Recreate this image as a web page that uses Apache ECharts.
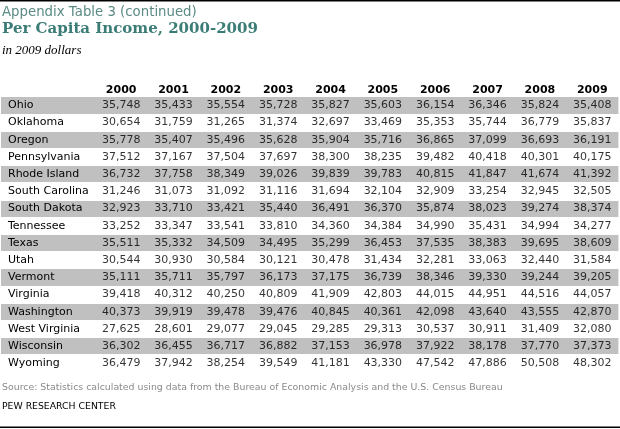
<!DOCTYPE html>
<html>
<head>
<meta charset="utf-8">
<script src="https://cdn.jsdelivr.net/npm/echarts@6/dist/echarts.min.js"></script>
<style>
html,body{margin:0;padding:0;background:#fff;}
#chart{width:620px;height:429px;}
</style>
</head>
<body>
<div id="chart"></div>
<script>
const years = ['2000','2001','2002','2003','2004','2005','2006','2007','2008','2009'];
const states = ['Ohio','Oklahoma','Oregon','Pennsylvania','Rhode Island','South Carolina','South Dakota','Tennessee','Texas','Utah','Vermont','Virginia','Washington','West Virginia','Wisconsin','Wyoming'];

const v2000 = [35748,30654,35778,37512,36732,31246,32923,33252,35511,30544,35111,39418,40373,27625,36302,36479];
const v2001 = [35433,31759,35407,37167,37758,31073,33710,33347,35332,30930,35711,40312,39919,28601,36455,37942];
const v2002 = [35554,31265,35496,37504,38349,31092,33421,33541,34509,30584,35797,40250,39478,29077,36717,38254];
const v2003 = [35728,31374,35628,37697,39026,31116,35440,33810,34495,30121,36173,40809,39476,29045,36882,39549];
const v2004 = [35827,32697,35904,38300,39839,31694,36491,34360,35299,30478,37175,41909,40845,29285,37153,41181];
const v2005 = [35603,33469,35716,38235,39783,32104,36370,34384,36453,31434,36739,42803,40361,29313,36978,43330];
const v2006 = [36154,35353,36865,39482,40815,32909,35874,34990,37535,32281,38346,44015,42098,30537,37922,47542];
const v2007 = [36346,35744,37099,40418,41847,33254,38023,35431,38383,33063,39330,44951,43640,30911,38178,47886];
const v2008 = [35824,36779,36693,40301,41674,32945,39274,34994,39695,32440,39244,44516,43555,31409,37770,50508];
const v2009 = [35408,35837,36191,40175,41392,32505,38374,34277,38609,31584,39205,44057,42870,32080,37373,48302];

const titleText = 'Appendix Table 3 (continued)';
const mainTitle = 'Per Capita Income, 2000-2009';
const subTitle = 'in 2009 dollars';
const sourceText = 'Source: Statistics calculated using data from the Bureau of Economic Analysis and the U.S. Census Bureau';
const creditText = 'PEW RESEARCH CENTER';

const columns = [v2000,v2001,v2002,v2003,v2004,v2005,v2006,v2007,v2008,v2009];
const cells = [];
states.forEach((s, i) => {
  years.forEach((y, j) => {
    cells.push([y, s, columns[j][i]]);
  });
});

const SANS = 'DejaVu Sans';
const bandColors = ['#c0c0c0', '#ffffff'];

const chart = echarts.init(document.getElementById('chart'), null, {renderer: 'canvas'});
chart.setOption({
  animation: false,
  backgroundColor: '#ffffff',
  title: [
    {text: titleText, left: 2, top: 6, padding: 0,
     textStyle: {fontFamily: SANS, fontSize: 13.3, fontWeight: 'normal', color: '#5b8a85', lineHeight: 13}},
    {text: mainTitle, left: 2, top: 22, padding: 0,
     textStyle: {fontFamily: 'DejaVu Serif', fontSize: 15, fontWeight: 'bold', color: '#3b7d76', lineHeight: 15}},
    {text: subTitle, left: 2, top: 44, padding: 0,
     textStyle: {fontFamily: 'Liberation Serif', fontSize: 13, fontStyle: 'italic', fontWeight: 'normal', color: '#000', lineHeight: 13}},
    {text: sourceText, left: 2, top: 383, padding: 0,
     textStyle: {fontFamily: SANS, fontSize: 9.4, fontWeight: 'normal', color: '#8a8a8a', lineHeight: 10}},
    {text: creditText, left: 2, top: 402, padding: 0,
     textStyle: {fontFamily: SANS, fontSize: 9.3, fontWeight: 'normal', color: '#000', lineHeight: 10}}
  ],
  graphic: [
    {type: 'rect', left: 0, top: 0, shape: {width: 620, height: 1.5}, style: {fill: '#000'}, silent: true},
    {type: 'rect', left: 0, top: 426.5, shape: {width: 620, height: 1.5}, style: {fill: '#000'}, silent: true}
  ],
  grid: [
    {left: 1, top: 96.7, width: 94, height: 275.2},
    {left: 95, top: 96.7, width: 523.4, height: 275.2}
  ],
  xAxis: [
    {gridIndex: 0, type: 'value', show: false, min: 0, max: 1},
    {gridIndex: 1, type: 'category', data: years, position: 'top',
     axisLine: {show: false}, axisTick: {show: false}, splitLine: {show: false},
     axisLabel: {interval: 0, margin: 1.5, fontFamily: SANS, fontSize: 11, fontWeight: 'bold', color: '#000'}}
  ],
  yAxis: [
    {gridIndex: 0, type: 'category', data: states, inverse: true,
     axisLine: {show: false}, axisTick: {show: false},
     splitArea: {show: true, interval: 0, areaStyle: {color: bandColors}},
     splitLine: {show: true, interval: 0, lineStyle: {color: '#ffffff', width: 1}},
     axisLabel: {inside: true, interval: 0, margin: 7, align: 'left', fontFamily: SANS, fontSize: 11, color: '#000'}},
    {gridIndex: 1, type: 'category', data: states, inverse: true,
     axisLine: {show: false}, axisTick: {show: false},
     splitArea: {show: true, interval: 0, areaStyle: {color: bandColors}},
     splitLine: {show: true, interval: 0, lineStyle: {color: '#ffffff', width: 1}},
     axisLabel: {show: false}}
  ],
  series: [
    {type: 'scatter', xAxisIndex: 1, yAxisIndex: 1, data: cells, silent: true,
     symbolSize: 1, itemStyle: {color: 'rgba(0,0,0,0)'},
     label: {show: true, position: 'inside',
       formatter: p => p.value[2].toLocaleString('en-US'),
       fontFamily: SANS, fontSize: 11, color: '#000'},
     emphasis: {disabled: true}}
  ]
});
</script>
</body>
</html>
